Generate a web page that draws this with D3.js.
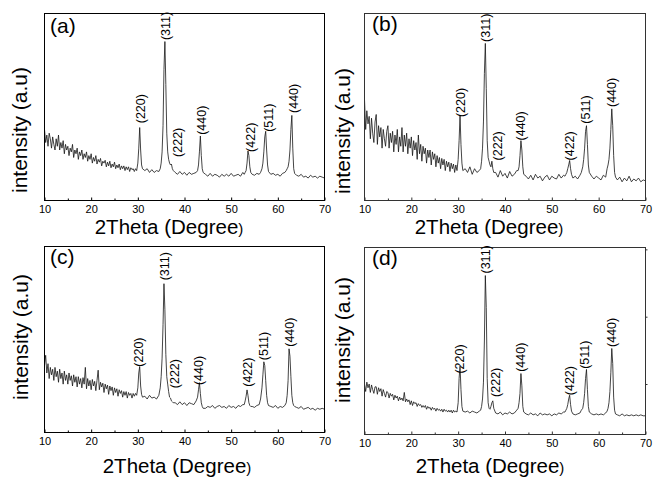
<!DOCTYPE html>
<html><head><meta charset="utf-8">
<script src="https://cdn.jsdelivr.net/npm/d3@7"></script>
<style>
body{margin:0;background:#fff}
svg{display:block}
text{font-family:"Liberation Sans",Arial,Helvetica,sans-serif;fill:#000}
</style>
</head><body>
<svg id="chart" width="653" height="484"></svg>
<script>
// ---------- data ----------
const angles = [
  10,10.25,10.5,10.75,11,11.25,11.5,11.75,12,12.25,12.5,12.75,13,13.25,13.5,13.75,14,14.25,14.5,14.75,
  15,15.25,15.5,15.75,16,16.25,16.5,16.75,17,17.25,17.5,17.75,18,18.25,18.5,18.75,19,19.25,19.5,19.75,
  20,20.25,20.5,20.75,21,21.25,21.5,21.75,22,22.25,22.5,22.75,23,23.25,23.5,23.75,24,24.25,24.5,24.75,
  25,25.25,25.5,25.75,26,26.25,26.5,26.75,27,27.25,27.5,27.75,28,28.25,28.5,28.75,29,29.25,29.5,29.75,
  30.0,30.2,30.4,30.6,30.8,31.0,
  31.5,32,32.5,33,33.5,34,34.5,
  34.8,35.0,35.2,35.4,35.6,35.8,36.0,36.2,36.4,36.6,36.8,37.0,37.2,37.4,37.6,
  38,38.5,39,39.5,40,40.5,41,41.5,42,42.5,
  42.8,43.0,43.2,43.4,43.6,43.8,44.0,
  44.5,45,45.5,46,46.5,47,47.5,48,48.5,49,49.5,50,50.5,51,51.5,52,52.5,
  52.8,53.0,53.2,53.4,53.6,53.8,54.0,54.2,
  54.5,55,55.5,56,56.3,
  56.6,56.8,57.0,57.2,57.4,57.6,57.8,58.0,
  58.5,59,59.5,60,60.5,61,61.5,61.8,
  62.0,62.2,62.4,62.6,62.8,63.0,63.2,63.4,63.6,
  64,64.5,65,65.5,66,66.5,67,67.5,68,68.5,69,69.5,70
];

const intensityA = [
  38,31,35,29,36,33,28,34,30,27,33,29,35,27,31,28,32,25,30,27,
  29,24,28,26,30,23,27,25,28,22,26,24,27,22,25,23,26,21,24,22,
  25,20,23,21,24,19.5,22,20.5,22.5,18.5,21,20,21.5,18,20.5,18.5,21,17.5,19.5,18,
  20.5,17,19,17.5,19.5,16.5,18.5,17,18.5,16,18,16.5,18,15.5,17.5,16.5,17,15.5,17,16,
  20,28,39,27,19,17,
  16,17,15,16.5,15,16,15.5,
  17,20,26,40,70,85,62,36,26,22,20,19,19.5,17,16,
  15,14,15.5,14,15,13.5,15,14,14.5,15,
  16,19,26,34.5,24,17,15,
  14,13,14.5,13,14,13.5,12.5,14,13,14,13,14.5,13,13.5,14,13,15,
  14,15,16,20,26.5,24,18,15,
  14,13.5,14.5,14,15,
  17,20,26,34,37,27,19,15.5,
  14,14.5,13.5,14,13,14.5,15,16,
  17,18,21,27,38,45.5,28,17,14.5,
  13.5,13,14,12.5,13,12,13.5,12.5,13,12,13,12.5,12
];

const intensityB = [
  54,38,48,41,45,33,44,36,31,42,46,30,40,34,39,28,38,33,29,37,
  40,28,36,31,37,26,35,30,38,26,34,29,39,26,35,29,36,25,33,28,
  34,24,32,27,31,22,35,25,30,21,29,25,28,20,27,23,27,19,26,22,
  25,18,24,20,23,17,22.5,19,22,16,21,18,20.5,15.5,20,17,19.5,15,19,16,
  22,32,45.5,30,20,16,
  17,15,18,14,17,15,16,
  17,21,28,42,68,84,60,32,23,21,19,18,21,17,15,
  15,12.5,16,13,14.5,12,15.5,13,14,16,
  16,18,24,32,27,18,14,
  13,11.5,13.5,11,14,12,13,10.5,12.5,13.5,11,13,12,11.5,14,12,13.5,
  13,14,15,17,19,21.4,17,14,
  12,13,11.5,13.5,15,
  18,22,28,37,40,30,19,15,
  13,11.5,13,12,11,13.5,12.5,17,
  19,22,28,38,49,40,24,15,12.5,
  11,12.5,10,12,10.5,13,10,11.5,10.5,12,10,11,10.5
];

const intensityC = [
  36,41.5,32,37,29,35,31,34,28,35,30,33,27,34,29,32,26,33,28,31,
  26,32,28,30.5,25,31,27,30,24.5,30,26,29,24,29.5,26,35,23.5,29,25,28,
  23,28.5,25,27.5,22.5,28,33.5,23,27,24.5,26.5,21.5,26,23.5,25.5,20.5,25,22.5,24.5,20,
  24,21.5,23.5,19.5,23,21,22.5,19,22,20,22,18.5,21.5,20,21,18.5,21,19.5,21,20,
  24,32,35.5,25,20.5,19,
  19.5,18,20,18.5,19,18,20,
  24,30,40,58,80,66,42,30,26,22,19,18.5,17,16.5,16,
  16,15,16.5,15,16,14.5,16,15.5,15,17,
  19,23,26.8,21,16,14,13,
  13,14,13.5,14.5,13,14,14.5,13.5,14,13,14.5,13.5,14,13,14.5,14,15,
  15,17,19.5,22.9,20,16,14.5,14,
  14,13.5,14.5,15,18,
  24,31,38,36,28,20,16,14.5,
  14,13.5,14.5,13,14,13.5,14.5,16,
  20,28,45,41,30,20,16,14.5,14,
  13.5,13,14,12.5,13,13.5,12.5,13,12,13,12.5,13,12.5
];

const intensityD = [
  27,23,28,25,27,22.5,26.5,24,22,25.5,25.5,21.5,25,23,24.5,20.5,24,22,20,23,
  22.5,19.5,22,20.5,21.5,18.5,21,19.5,20.5,18,20,18.5,19.5,18,22.5,17.5,19,17.5,18.5,16,
  18,15.5,17.5,16.5,17,15,16.5,15.5,16,14.5,15.5,14.5,15.5,13.5,15,14,14.5,13,14.5,13.5,
  14,12.5,14,13,13.5,12.5,13.5,12,13.5,12.5,13,12,13,12,13,11.5,13,12,12.5,12,
  17,30,36.5,24,15,12.5,
  12,12.5,11.5,12.5,12,11.5,12.5,
  13,15,19,28,50,85,68,30,17,14,13.5,15,17,18,14,
  11.5,11,12,10.5,11.5,11,12,11,11.5,13,
  14,17,22,32.6,26,15,12,
  11,10.5,11.5,10.5,11,10,11.5,10.5,11,10.5,11,10,11,10.5,11.5,11,12,
  12,13,14,16,19,21,16,12.5,
  11,10.5,11,11.5,13,
  14,17,22,30,34.8,24,15,12,
  11,10.5,11,10.5,11,10.5,11.5,12.5,
  14,17,23,33,46,38,20,13,11,
  10.5,10,11,10,10.5,10,10.5,10,10.5,10,10.5,10,10
];

const peakLabels = ["(220)","(311)","(222)","(440)","(422)","(511)","(440)"];
const labelAnglesA = [30.5,36.0,38.4,43.7,54.1,57.9,63.3];
const labelLevelsA = [41.3,85.8,23.3,35.1,26.0,36.7,46.8];
const labelAnglesB = [30.4,35.9,38.3,43.3,53.7,57.2,62.8];
const labelLevelsB = [44.6,84.8,21.4,32.1,21.4,41.1,50.0];
const labelAnglesC = [30.1,35.7,37.8,43.1,53.4,56.9,62.4];
const labelLevelsC = [35.4,81.8,23.8,25.5,24.6,38.9,46.1];
const labelAnglesD = [30.2,35.9,38.0,43.3,53.7,57.0,62.8];
const labelLevelsD = [32.6,86.1,20.1,33.5,21.0,35.1,46.8];

const xTicks = [10,20,30,40,50,60,70];
const xMinorTicks = [15,25,35,45,55,65];
const rightTicksD = [27,63,99];
const panelNames = ["(a)","(b)","(c)","(d)"];
const xTitleMain = "2Theta (Degree";
const xTitleEnd = ")";
const yTitle = "intensity (a.u)";

// ---------- layout ----------
const panels = [
  {name:panelNames[0], vals:intensityA, la:labelAnglesA, ll:labelLevelsA, rt:[],
   L:44.5, R:324.5, T:13.5, B:200.5, frame:"#000",
   nameX:50, nameY:33, xtX:169, xtY:234, ytX:27, ytY:130},
  {name:panelNames[1], vals:intensityB, la:labelAnglesB, ll:labelLevelsB, rt:[],
   L:364.5, R:645.5, T:13.5, B:200.5, frame:"#333",
   nameX:372, nameY:31, xtX:489, xtY:234, ytX:350, ytY:131},
  {name:panelNames[2], vals:intensityC, la:labelAnglesC, ll:labelLevelsC, rt:[],
   L:44.5, R:324.5, T:246.5, B:432.5, frame:"#000",
   nameX:50, nameY:264, xtX:177, xtY:473, ytX:28, ytY:337},
  {name:panelNames[3], vals:intensityD, la:labelAnglesD, ll:labelLevelsD, rt:rightTicksD,
   L:364.5, R:645.5, T:247.5, B:434.5, frame:"#333",
   nameX:372, nameY:265, xtX:490, xtY:473, ytX:350, ytY:340}
];

const svg = d3.select("#chart");

panels.forEach(p => {
  const x = d3.scaleLinear().domain([10,70]).range([p.L,p.R]);
  const y = d3.scaleLinear().domain([0,100]).range([p.B,p.T]);
  const g = svg.append("g");

  // curve
  const pts = angles.map((a,i)=>[a,p.vals[i]]);
  g.append("path")
    .datum(pts)
    .attr("fill","none")
    .attr("stroke","#151515")
    .attr("stroke-width",0.8)
    .attr("stroke-linejoin","round")
    .attr("d", d3.line().x(d=>x(d[0])).y(d=>y(d[1])));

  // frame
  g.append("rect")
    .attr("x",p.L).attr("y",p.T)
    .attr("width",p.R-p.L).attr("height",p.B-p.T)
    .attr("fill","none").attr("stroke",p.frame).attr("stroke-width",1);

  // bottom axis major
  const ax = g.append("g").attr("transform",`translate(0,${p.B})`)
    .call(d3.axisBottom(x).tickValues(xTicks).tickSize(-3).tickPadding(4.5).tickFormat(d3.format("d")));
  ax.select(".domain").remove();
  ax.selectAll("line").attr("stroke",p.frame);
  ax.selectAll("text").attr("font-size",11).attr("font-family",'"Liberation Sans",Arial,sans-serif').attr("fill","#000");

  // minor ticks
  const mx = g.append("g").attr("transform",`translate(0,${p.B})`)
    .call(d3.axisBottom(x).tickValues(xMinorTicks).tickSize(-2).tickFormat(""));
  mx.select(".domain").remove();
  mx.selectAll("line").attr("stroke",p.frame);

  // right ticks
  if (p.rt.length) {
    const ry = g.append("g").attr("transform",`translate(${p.R},0)`)
      .call(d3.axisRight(y).tickValues(p.rt).tickSize(2).tickFormat(""));
    ry.select(".domain").remove();
    ry.selectAll("line").attr("stroke",p.frame);
  }

  // peak labels
  p.la.forEach((a,i)=>{
    g.append("text")
      .attr("transform",`translate(${x(a)},${y(p.ll[i])}) rotate(-90)`)
      .attr("dy","0.36em")
      .attr("font-size",12.5)
      .text(peakLabels[i]);
  });

  // panel name
  g.append("text").attr("x",p.nameX).attr("y",p.nameY)
    .attr("font-size",21).text(p.name);

  // x title
  const xt = g.append("text").attr("x",p.xtX).attr("y",p.xtY)
    .attr("text-anchor","middle").attr("font-size",20.5);
  xt.append("tspan").text(xTitleMain);
  xt.append("tspan").attr("font-size",15).text(xTitleEnd);

  // y title
  g.append("text")
    .attr("transform",`translate(${p.ytX},${p.ytY}) rotate(-90)`)
    .attr("text-anchor","middle").attr("font-size",21)
    .text(yTitle);
});
</script>
</body></html>
